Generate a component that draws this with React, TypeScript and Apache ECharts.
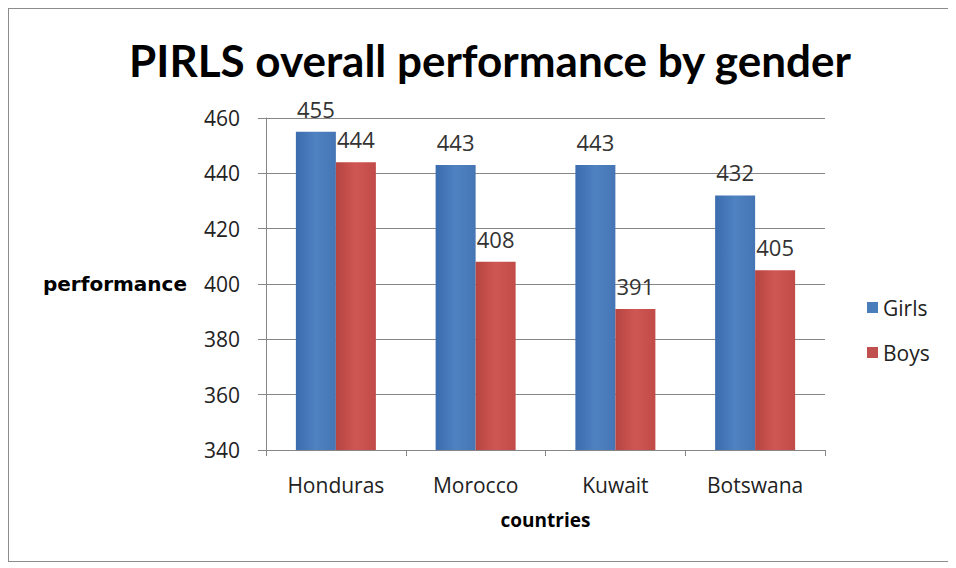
import React, { useEffect, useRef } from "react";
import * as echarts from "echarts";

const categories = ["Honduras", "Morocco", "Kuwait", "Botswana"];
const girls = [455, 443, 443, 432];
const boys = [444, 408, 391, 405];
const yTicks = { min: 340, max: 460, interval: 20 };

const FONT = "Open Sans";

export default function App() {
  const ref = useRef<HTMLDivElement>(null);
  useEffect(() => {
    if (!ref.current) return;
    const chart = echarts.init(ref.current, null, { renderer: "svg" });
    const blue = new echarts.graphic.LinearGradient(0, 0, 1, 0, [
      { offset: 0, color: "#3b6cae" },
      { offset: 0.5, color: "#4f82c1" },
      { offset: 1, color: "#4575b4" },
    ]);
    const red = new echarts.graphic.LinearGradient(0, 0, 1, 0, [
      { offset: 0, color: "#b64441" },
      { offset: 0.5, color: "#cf5753" },
      { offset: 1, color: "#c14b48" },
    ]);
    const labelStyle = {
      show: true,
      position: "top",
      fontFamily: FONT,
      fontSize: 22,
      color: "#333",
      distance: 12,
    };
    chart.setOption({
      animation: false,
      backgroundColor: "#ffffff",
      textStyle: { fontFamily: FONT },
      title: {
        text: "PIRLS overall performance by gender",
        left: 476,
        textAlign: "center",
        top: 24,
        textStyle: { fontFamily: "Lato", fontWeight: "bold", fontSize: 44, color: "#000" },
      },
      legend: {
        orient: "vertical",
        left: 853,
        top: 283,
        itemGap: 24,
        itemWidth: 11,
        itemHeight: 11,
        icon: "rect",
        textStyle: { fontFamily: FONT, fontSize: 21, color: "#222" },
        data: [
          { name: "Girls", itemStyle: { color: "#4a7ebb" } },
          { name: "Boys", itemStyle: { color: "#c0504d" } },
        ],
      },
      grid: { left: 257, right: 124, top: 109, bottom: 111 },
      xAxis: {
        type: "category",
        data: categories,
        name: "countries",
        nameLocation: "middle",
        nameGap: 60,
        nameTextStyle: { fontFamily: FONT, fontWeight: "bold", fontSize: 19, color: "#000" },
        axisLine: { lineStyle: { color: "#868686" } },
        axisTick: { show: true, length: 6, lineStyle: { color: "#868686" } },
        axisLabel: { fontFamily: FONT, fontSize: 21, color: "#222", margin: 24 },
      },
      yAxis: {
        type: "value",
        min: yTicks.min,
        max: yTicks.max,
        interval: yTicks.interval,
        name: "performance",
        nameLocation: "middle",
        nameRotate: 0,
        nameGap: 79,
        nameTextStyle: { fontFamily: "DejaVu Sans", fontWeight: "bold", fontSize: 20, color: "#000" },
        axisLine: { show: true, lineStyle: { color: "#868686" } },
        axisTick: { show: true, length: 8, lineStyle: { color: "#868686" } },
        splitLine: { lineStyle: { color: "#868686" } },
        axisLabel: { fontFamily: FONT, fontSize: 21, color: "#222", margin: 26 },
      },
      series: [
        {
          name: "Girls",
          type: "bar",
          data: girls,
          barWidth: 40,
          barGap: "0%",
          itemStyle: { color: blue },
          label: labelStyle,
        },
        {
          name: "Boys",
          type: "bar",
          data: boys,
          barWidth: 40,
          barGap: "0%",
          itemStyle: { color: red },
          label: labelStyle,
        },
      ],
    });
    return () => chart.dispose();
  }, []);
  return (
    <div style={{ width: 940, height: 552, border: "1px solid #8c8c8c" }}>
      <div ref={ref} style={{ width: 940, height: 552 }} />
    </div>
  );
}
